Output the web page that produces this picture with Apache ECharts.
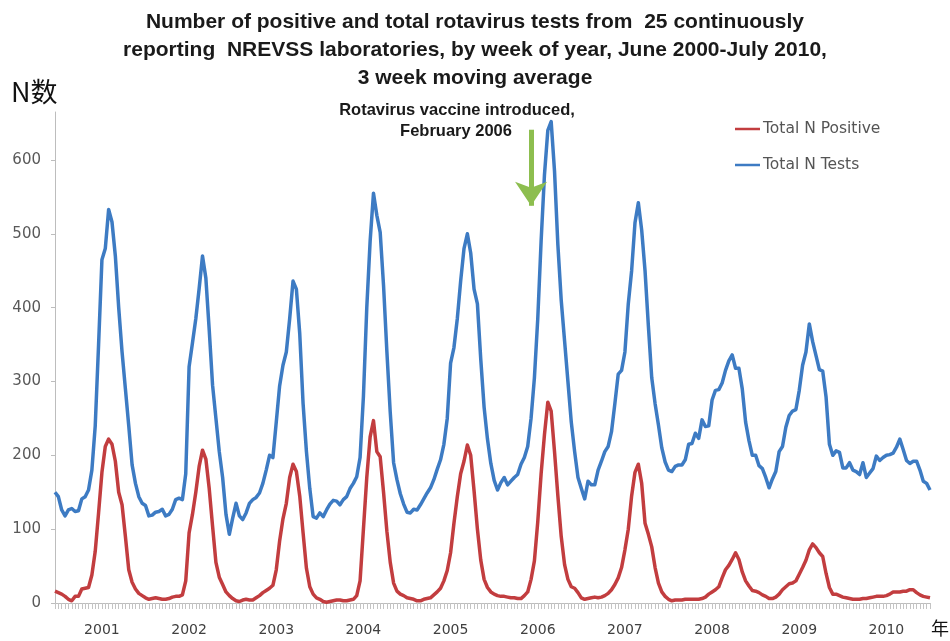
<!DOCTYPE html>
<html>
<head>
<meta charset="utf-8">
<script src="https://cdn.jsdelivr.net/npm/echarts@6/dist/echarts.min.js"></script>
<style>html,body{margin:0;padding:0;background:#fff;}#chart{width:950px;height:641px;}</style>
</head>
<body>
<div id="chart"></div>
<script>
// Biweekly points, June 2000 - July 2010 (index 14 = first period of 2001)
const yearLabels = ['2001','2002','2003','2004','2005','2006','2007','2008','2009','2010'];
const firstIndexOf2001 = 14;
const periodsPerYear = 26;

const totalTests = [
150,144,126,118,126,128,124,125,141,144,
153,180,240,350,465,480,533,516,470,400,
340,290,240,187,162,144,135,132,118,119,
123,124,127,118,120,127,140,142,140,175,
320,352,385,426,470,440,370,295,250,205,
170,120,93,115,135,118,113,122,135,140,
143,149,162,180,200,197,245,294,322,340,
385,436,425,365,270,205,155,117,115,122,
117,126,134,139,138,133,140,144,155,162,
171,197,280,400,490,555,525,502,430,340,
258,190,167,148,134,123,122,127,126,133,
141,149,156,167,181,194,215,250,325,346,
385,436,480,500,474,425,405,330,265,222,
189,166,153,163,170,160,165,170,174,188,
197,212,250,305,385,490,580,640,652,585,
485,410,355,300,245,205,170,155,141,165,
160,160,180,192,205,212,232,270,310,315,
340,405,450,515,542,505,450,375,305,270,
241,210,191,180,178,185,187,187,194,215,
216,230,223,248,239,240,275,288,289,298,
315,328,336,318,318,290,245,220,200,200,
186,182,170,156,168,178,205,212,238,254,
260,262,288,322,340,378,354,335,316,314,
279,215,200,206,204,183,183,190,180,178,
174,190,170,176,182,199,193,197,200,201,
203,211,222,208,193,189,192,192,180,165,162,153
];

const totalPositive = [
16,14,12,9,5,3,9,9,19,20,
21,38,70,122,177,212,222,215,192,150,
133,90,45,28,19,13,10,7,5,6,
7,6,5,5,6,8,9,9,11,30,
95,120,150,185,207,195,155,104,55,35,
25,15,10,6,3,2,4,5,4,4,
7,10,14,17,20,24,45,84,114,135,
170,188,178,145,95,47,22,12,7,5,
2,1,2,3,4,4,3,3,4,5,
10,30,100,170,225,247,205,198,150,97,
55,27,16,12,10,7,6,5,3,3,
5,6,7,11,15,20,30,44,68,108,
144,175,192,214,200,152,100,58,32,21,
15,12,10,9,9,8,7,7,6,6,
10,15,32,57,110,175,228,272,260,205,
145,90,52,32,22,20,14,7,5,6,
7,8,7,8,10,13,18,25,34,48,
72,100,145,177,188,162,108,93,76,48,
27,15,9,5,3,4,4,4,5,5,
5,5,5,6,8,12,15,18,22,34,
45,51,59,68,59,42,30,23,17,16,
14,11,9,6,6,8,12,18,22,26,
27,30,39,48,58,72,80,75,68,63,
40,21,12,12,10,8,7,6,5,5,
5,6,6,7,8,9,9,9,10,12,
15,15,15,16,16,18,18,14,11,9,8,7
];

// Period labels: "YYYY-PP" (biweekly period within year)
const categories = totalTests.map((_, i) => {
  const k = i - firstIndexOf2001;
  const y = 2001 + Math.floor(k / periodsPerYear);
  const n = ((k % periodsPerYear) + periodsPerYear) % periodsPerYear;
  return y + '-' + String(n + 1).padStart(2, '0');
});

// Vaccine arrow (annotation), in data units
const arrowIndex = 142;
const arrowTop = 641;
const arrowTip = 538;

const chart = echarts.init(document.getElementById('chart'));
const sans = "'Liberation Sans', Arial, sans-serif";
const axisFont = "'DejaVu Sans', Verdana, sans-serif";
chart.setOption({
  animation: false,
  backgroundColor: '#fff',
  title: {
    text: 'Number of positive and total rotavirus tests from  25 continuously\nreporting  NREVSS laboratories, by week of year, June 2000-July 2010,\n3 week moving average',
    left: 'center',
    top: 3,
    textStyle: { fontFamily: sans, fontSize: 21, fontWeight: 'bold', color: '#1a1a1a', lineHeight: 28 }
  },
  legend: {
    orient: 'vertical',
    left: 735,
    top: 121,
    padding: 0,
    icon: 'path://M0,0 H10 V1 H0 Z',
    itemWidth: 25,
    itemHeight: 4,
    itemGap: 20,
    textStyle: { fontFamily: axisFont, fontSize: 15.5, color: '#555', padding: [0, 0, 0, -2] },
    data: ['Total N Positive', 'Total N Tests']
  },
  grid: { left: 55, right: 20, top: 112, bottom: 38 },
  xAxis: {
    type: 'category',
    data: categories,
    boundaryGap: false,
    axisLine: { lineStyle: { color: '#bdbdbd', width: 1 } },
    axisTick: { show: true, interval: 0, length: 6, lineStyle: { color: '#c4c4c4', width: 1 } },
    axisLabel: {
      interval: (idx, val) => val.endsWith('-01'),
      formatter: (val) => val.slice(0, 4),
      margin: 20,
      fontFamily: axisFont,
      fontSize: 14,
      color: '#404040'
    },
    splitLine: { show: false }
  },
  yAxis: {
    type: 'value',
    min: 0,
    max: 665,
    interval: 100,
    axisLine: { show: true, lineStyle: { color: '#bdbdbd' } },
    axisTick: { show: true, length: 4, lineStyle: { color: '#bdbdbd' } },
    axisLabel: { showMaxLabel: false, margin: 14, fontFamily: axisFont, fontSize: 15, color: '#595959' },
    splitLine: { show: false }
  },
  graphic: [
    { type: 'text', left: 11, top: 78, style: { text: 'N数', fontFamily: "'Noto Sans CJK SC', sans-serif", fontSize: 27, fill: '#111' } },
    { type: 'text', left: 931, top: 619, style: { text: '年', fontFamily: "'Noto Sans CJK SC', sans-serif", fontSize: 18, fill: '#111' } },
    { type: 'text', x: 457, y: 102, style: { text: 'Rotavirus vaccine introduced,', textAlign: 'center', fontFamily: sans, fontSize: 16.5, fontWeight: 'bold', fill: '#1a1a1a' } },
    { type: 'text', x: 456, y: 123, style: { text: 'February 2006', textAlign: 'center', fontFamily: sans, fontSize: 16.5, fontWeight: 'bold', fill: '#1a1a1a' } }
  ],
  series: [
    {
      name: 'Total N Positive',
      type: 'line',
      data: totalPositive,
      symbol: 'none',
      z: 3,
      lineStyle: { color: '#c23d3f', width: 3.5, join: 'round' },
      itemStyle: { color: '#c23d3f' }
    },
    {
      name: 'Total N Tests',
      type: 'line',
      data: totalTests,
      symbol: 'none',
      z: 2,
      lineStyle: { color: '#3d7bc3', width: 3.5, join: 'round' },
      itemStyle: { color: '#3d7bc3' },
      markLine: {
        silent: true,
        symbol: ['none', 'arrow'],
        symbolSize: [24, 24],
        label: { show: false },
        lineStyle: { color: '#8dbe4f', width: 5, type: 'solid' },
        data: [[ { coord: [arrowIndex, arrowTop] }, { coord: [arrowIndex, arrowTip] } ]]
      }
    }
  ]
});
</script>
</body>
</html>
